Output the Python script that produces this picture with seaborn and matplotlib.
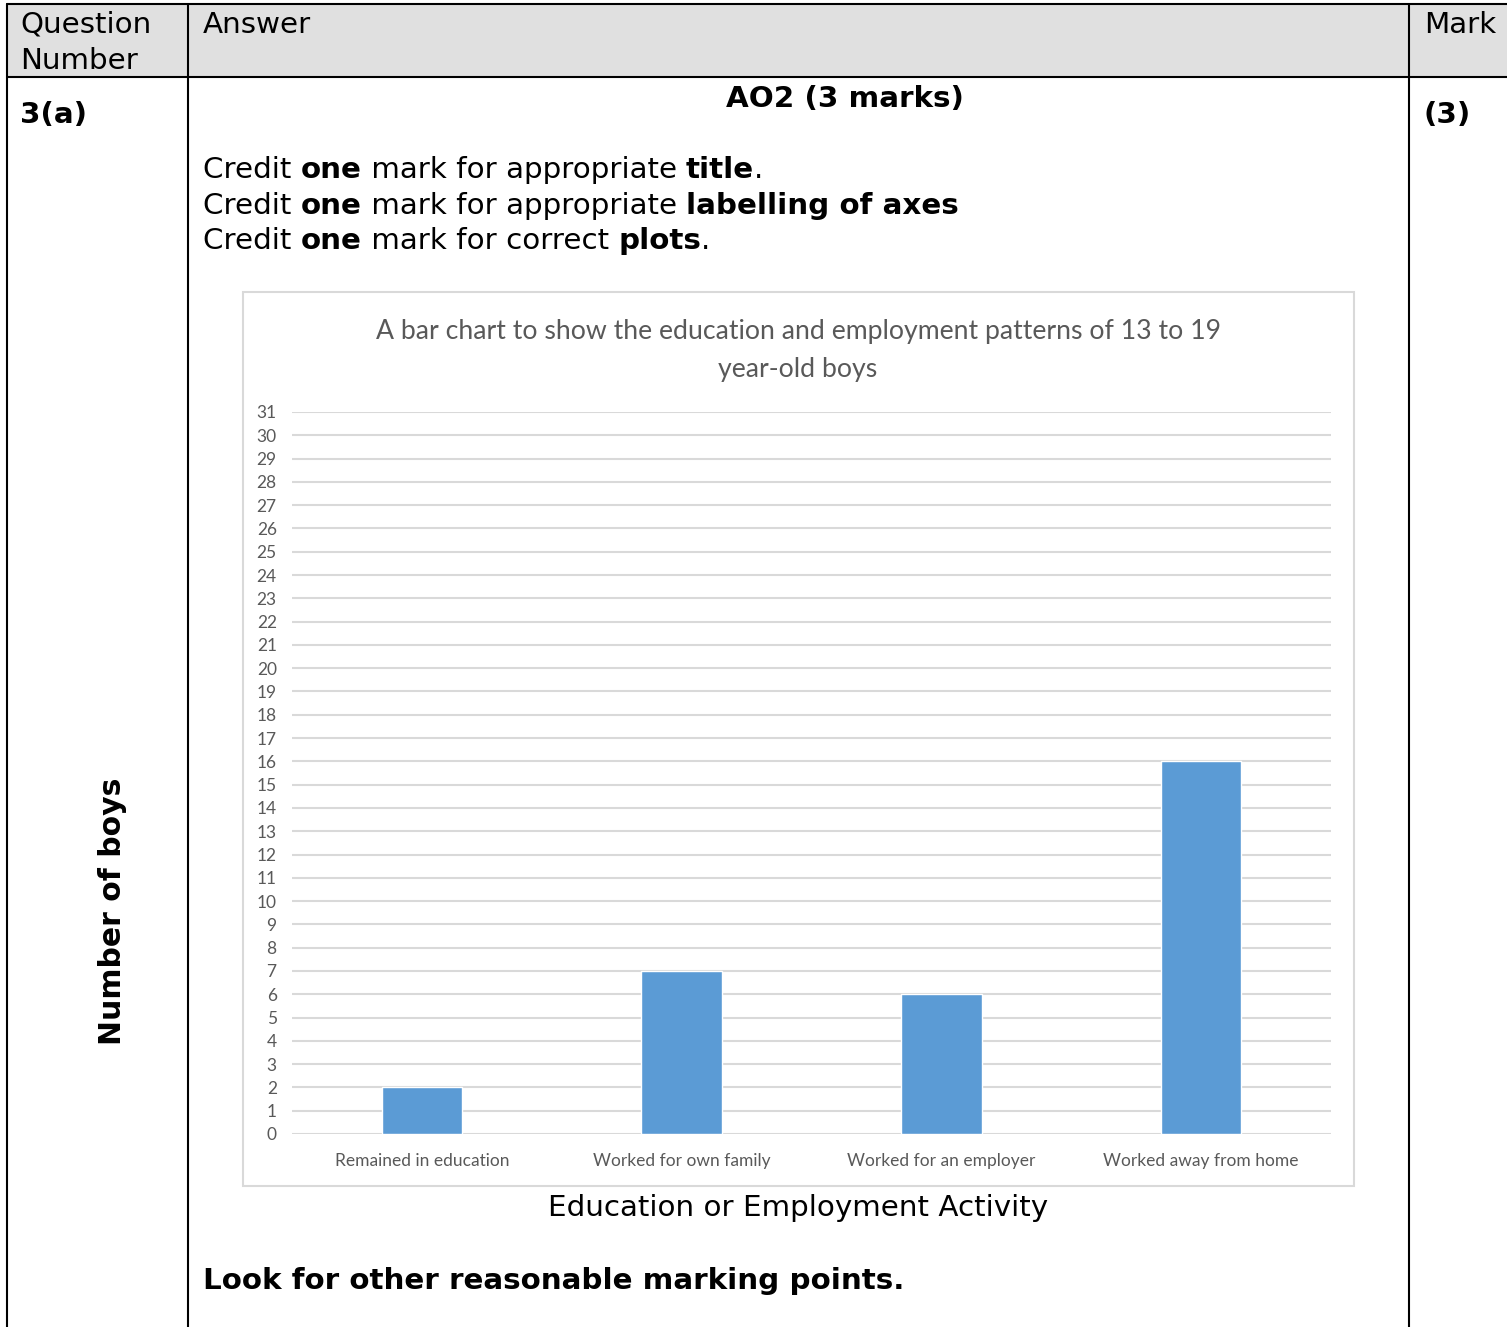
import pandas as pd
import matplotlib.pyplot as plt
from matplotlib.patches import Rectangle
import seaborn as sns

sns.set_theme(style='white')
plt.rcParams['font.family'] = ['DejaVu Sans']
plt.rcParams['text.color'] = 'black'

# chart data
activities = ['Remained in education', 'Worked for own family',
              'Worked for an employer', 'Worked away from home']
boys = [2, 7, 6, 16]
y_ticks = list(range(0, 32))

title_lines = ['A bar chart to show the education and employment patterns of 13 to 19',
               'year-old boys']

W, H = 1507, 1327
fig = plt.figure(figsize=(W / 100, H / 100), dpi=100)

# background layer in pixel coords for the mark-scheme table
bg = fig.add_axes([0, 0, 1, 1])
bg.set_xlim(0, W)
bg.set_ylim(H, 0)
bg.axis('off')

bg.add_patch(Rectangle((7, 4), W - 7, 73, color='#e0e0e0', lw=0))
lw = 1.5
for yy in (4, 77):
    bg.plot([7, W], [yy, yy], color='black', lw=lw)
for xx in (7, 188, 1409):
    bg.plot([xx, xx], [4, H], color='black', lw=lw)

FS = 21.2
bg.text(20, 25, 'Question', fontsize=FS, va='center')
bg.text(20, 61, 'Number', fontsize=FS, va='center')
bg.text(203, 25, 'Answer', fontsize=FS, va='center')
bg.text(1424, 25, 'Mark', fontsize=FS, va='center')
bg.text(20, 115, '3(a)', fontsize=FS, fontweight='bold', va='center')
bg.text(1424, 115, '(3)', fontsize=FS, fontweight='bold', va='center')
bg.text(845, 99, 'AO2 (3 marks)', fontsize=FS, fontweight='bold', va='center', ha='center')

renderer = fig.canvas.get_renderer()


def text_width(s, weight):
    a = bg.text(0, 0, 'x' + s + 'x', fontsize=FS, fontweight=weight)
    b = bg.text(0, 0, 'xx', fontsize=FS, fontweight=weight)
    w = a.get_window_extent(renderer).width - b.get_window_extent(renderer).width
    a.remove()
    b.remove()
    return w


def rich_line(x, y, parts):
    for s, weight in parts:
        bg.text(x, y, s, fontsize=FS, fontweight=weight, va='center', ha='left')
        x += text_width(s, weight)


rich_line(203, 170, [('Credit ', 'normal'), ('one', 'bold'), (' mark for appropriate ', 'normal'),
                     ('title', 'bold'), ('.', 'normal')])
rich_line(203, 206, [('Credit ', 'normal'), ('one', 'bold'), (' mark for appropriate ', 'normal'),
                     ('labelling of axes', 'bold')])
rich_line(203, 241, [('Credit ', 'normal'), ('one', 'bold'), (' mark for correct ', 'normal'),
                     ('plots', 'bold'), ('.', 'normal')])

bg.text(203, 1281, 'Look for other reasonable marking points.', fontsize=FS,
        fontweight='bold', va='center')

# chart frame and titles
bg.add_patch(Rectangle((243, 292), 1111, 894, fill=False, edgecolor='#d9d9d9', lw=1.5))
grey = '#595959'
bg.text(798, 331, title_lines[0], fontsize=19.2, color=grey, family='Lato', ha='center', va='center')
bg.text(798, 369, title_lines[1], fontsize=19.2, color=grey, family='Lato', ha='center', va='center')
bg.text(798, 1208, 'Education or Employment Activity', fontsize=FS, ha='center', va='center')
bg.text(113, 911, 'Number of boys', fontsize=21.5, fontweight='bold', rotation=90,
        ha='center', va='center')

# the bar chart itself
ax = fig.add_axes([292 / W, (H - 1134) / H, 1039 / W, 722 / H])
ax.set_facecolor('none')
df = pd.DataFrame({'Activity': activities, 'Boys': boys})
sns.barplot(data=df, x='Activity', y='Boys', color='#5B9BD5', width=0.31,
            saturation=1, ax=ax, zorder=3)
ax.set_xlim(-0.5, 3.5)
ax.set_ylim(0, 31)
ax.set_yticks(y_ticks)
ax.yaxis.grid(True, color='#d9d9d9', lw=1.5, zorder=0)
ax.set_axisbelow(True)
for sp in ax.spines.values():
    sp.set_visible(False)
ax.set_xlabel('')
ax.set_ylabel('')
ax.tick_params(axis='y', length=0, pad=11, labelsize=12.5, labelcolor=grey)
ax.tick_params(axis='x', length=0, pad=14, labelsize=12.5, labelcolor=grey)
for lab in ax.get_xticklabels() + ax.get_yticklabels():
    lab.set_family('Lato')

fig.savefig('out.png', dpi=100)
